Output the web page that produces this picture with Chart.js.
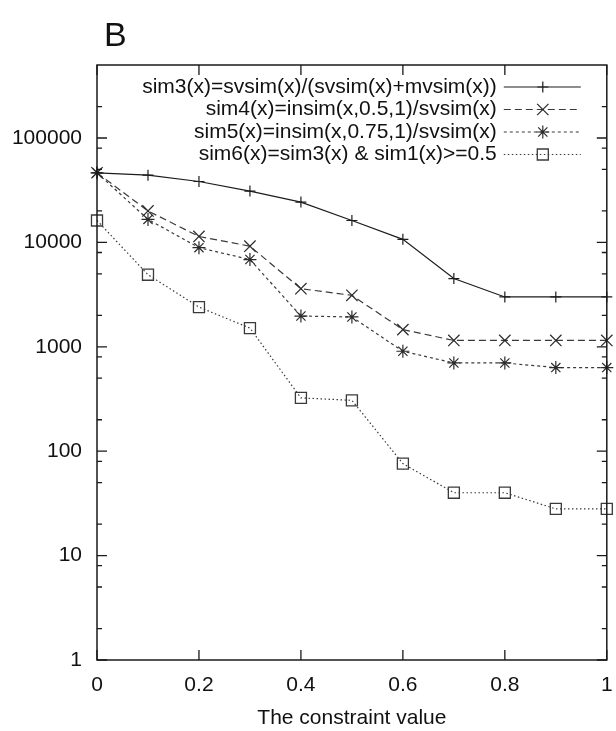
<!DOCTYPE html>
<html lang="en">
<head>
  <meta charset="UTF-8">
  <title>B</title>
  <script src="https://cdn.jsdelivr.net/npm/chart.js"></script>
  <style>
    html, body { margin: 0; padding: 0; background: #fff; }
  </style>
</head>
<body>
  <canvas id="myChart" width="616" height="731"></canvas>

  <script>
    // data
    const xValues = [0, 0.1, 0.2, 0.3, 0.4, 0.5, 0.6, 0.7, 0.8, 0.9, 1];
    const sim3Values = [46400, 44000, 38300, 31000, 24300, 16200, 10700, 4500, 3000, 3000, 3000];
    const sim4Values = [46400, 20000, 11400, 9200, 3600, 3110, 1460, 1150, 1150, 1150, 1150];
    const sim5Values = [46400, 16600, 8900, 6850, 1970, 1930, 906, 700, 700, 632, 632];
    const sim6Values = [16200, 4900, 2400, 1510, 324, 307, 76, 40, 40, 28, 28];

    const seriesLabels = [
      'sim3(x)=svsim(x)/(svsim(x)+mvsim(x))',
      'sim4(x)=insim(x,0.5,1)/svsim(x)',
      'sim5(x)=insim(x,0.75,1)/svsim(x)',
      'sim6(x)=sim3(x) & sim1(x)>=0.5'
    ];
    const xTickValues = [0, 0.2, 0.4, 0.6, 0.8, 1];
    const yTickValues = [1, 10, 100, 1000, 10000, 100000];
    const yMinorSteps = [2, 5, 8];

    const FONT = '"Liberation Sans", Arial, Helvetica, sans-serif';
    Chart.defaults.font.family = FONT;
    Chart.defaults.font.size = 21;
    Chart.defaults.color = '#111';

    function pts(vals) {
      return xValues.map((x, i) => ({ x: x, y: vals[i] }));
    }

    // frame, inward ticks, legend and panel letter, gnuplot style
    const gnuplotFrame = {
      id: 'gnuplotFrame',
      afterDatasetsDraw(chart) {
        const ctx = chart.ctx;
        const a = chart.chartArea;
        const xs = chart.scales.x;
        const ys = chart.scales.y;
        ctx.save();
        ctx.strokeStyle = '#1a1a1a';
        ctx.lineWidth = 1.5;
        ctx.setLineDash([]);
        ctx.strokeRect(a.left, a.top, a.right - a.left, a.bottom - a.top);

        ctx.lineWidth = 1.3;
        ctx.beginPath();
        xTickValues.forEach(v => {
          const px = xs.getPixelForValue(v);
          ctx.moveTo(px, a.bottom); ctx.lineTo(px, a.bottom - 10);
          ctx.moveTo(px, a.top); ctx.lineTo(px, a.top + 10);
        });
        yTickValues.forEach(dec => {
          [1].concat(yMinorSteps).forEach(m => {
            const v = dec * m;
            if (v >= ys.max) return;
            const len = m === 1 ? 10 : 5;
            const py = ys.getPixelForValue(v);
            ctx.moveTo(a.left, py); ctx.lineTo(a.left + len, py);
            ctx.moveTo(a.right, py); ctx.lineTo(a.right - len, py);
          });
        });
        ctx.stroke();

        // legend inside the top right corner
        ctx.font = '21px ' + FONT;
        ctx.textAlign = 'right';
        ctx.textBaseline = 'middle';
        chart.data.datasets.forEach((ds, i) => {
          const yRow = a.top + 22 + i * 22.5;
          ctx.fillStyle = '#111';
          ctx.fillText(ds.label, a.right - 110, yRow);
          ctx.strokeStyle = ds.borderColor;
          ctx.lineWidth = ds.borderWidth;
          ctx.setLineDash(ds.borderDash || []);
          ctx.beginPath();
          ctx.moveTo(a.right - 103, yRow);
          ctx.lineTo(a.right - 26, yRow);
          ctx.stroke();
          ctx.setLineDash([]);
          ctx.strokeStyle = ds.pointBorderColor;
          ctx.fillStyle = ds.pointBackgroundColor || 'rgba(0,0,0,0)';
          ctx.lineWidth = ds.pointBorderWidth;
          Chart.helpers.drawPoint(ctx, {
            pointStyle: ds.pointStyle,
            radius: ds.pointRadius,
            borderWidth: ds.pointBorderWidth,
            rotation: 0
          }, a.right - 64, yRow);
        });

        ctx.fillStyle = '#111';
        ctx.textAlign = 'left';
        ctx.font = '34px ' + FONT;
        ctx.fillText('B', 104, 37);
        ctx.restore();
      }
    };

    const ctx = document.getElementById('myChart').getContext('2d');
    const myChart = new Chart(ctx, {
      type: 'line',
      data: {
        datasets: [
          {
            label: seriesLabels[0],
            data: pts(sim3Values),
            borderColor: '#1c1c1c',
            borderWidth: 1.2,
            pointStyle: 'cross',
            pointRadius: 5.5,
            pointBorderWidth: 1.2,
            pointBorderColor: '#1c1c1c',
            pointBackgroundColor: 'rgba(0,0,0,0)'
          },
          {
            label: seriesLabels[1],
            data: pts(sim4Values),
            borderColor: '#3a3a3a',
            borderWidth: 1.2,
            borderDash: [7, 4],
            pointStyle: 'crossRot',
            pointRadius: 8,
            pointBorderWidth: 1.2,
            pointBorderColor: '#2a2a2a',
            pointBackgroundColor: 'rgba(0,0,0,0)'
          },
          {
            label: seriesLabels[2],
            data: pts(sim5Values),
            borderColor: '#3a3a3a',
            borderWidth: 1.2,
            borderDash: [3, 3],
            pointStyle: 'star',
            pointRadius: 6.5,
            pointBorderWidth: 1.2,
            pointBorderColor: '#2a2a2a',
            pointBackgroundColor: 'rgba(0,0,0,0)'
          },
          {
            label: seriesLabels[3],
            data: pts(sim6Values),
            borderColor: '#3a3a3a',
            borderWidth: 1.2,
            borderDash: [1.5, 2.5],
            pointStyle: 'rect',
            pointRadius: 7.8,
            pointBorderWidth: 1.3,
            pointBorderColor: '#3a3a3a',
            pointBackgroundColor: 'rgba(0,0,0,0)'
          }
        ]
      },
      options: {
        responsive: false,
        animation: false,
        clip: false,
        layout: { padding: { top: 65, right: 9, left: 0, bottom: 0 } },
        plugins: {
          legend: { display: false },
          tooltip: { enabled: false }
        },
        scales: {
          x: {
            type: 'linear',
            min: 0,
            max: 1,
            grid: { display: false, drawTicks: false },
            border: { display: false },
            afterBuildTicks: s => { s.ticks = xTickValues.map(v => ({ value: v })); },
            afterFit: s => { s.height = 71; s.paddingLeft = 0; s.paddingRight = 0; },
            ticks: {
              padding: 13,
              maxRotation: 0,
              autoSkip: false,
              callback: v => String(Number(v.toFixed(1)))
            },
            title: {
              display: true,
              text: 'The constraint value',
              font: { size: 21 },
              padding: { top: 0, bottom: 0 }
            }
          },
          y: {
            type: 'logarithmic',
            min: 1,
            max: 500000,
            grid: { display: false, drawTicks: false },
            border: { display: false },
            afterBuildTicks: s => { s.ticks = yTickValues.map(v => ({ value: v })); },
            afterFit: s => { s.width = 97; s.paddingTop = 0; s.paddingBottom = 0; },
            ticks: {
              padding: 15,
              autoSkip: false,
              callback: v => String(v)
            }
          }
        }
      },
      plugins: [gnuplotFrame]
    });
  </script>
</body>
</html>
